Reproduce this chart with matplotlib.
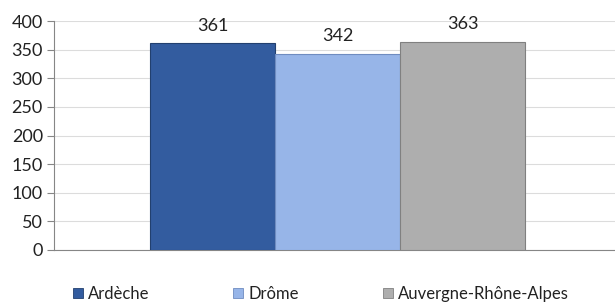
import matplotlib
matplotlib.use("Agg")
import matplotlib.pyplot as plt
from matplotlib.patches import Patch

categories = ["Ardèche", "Drôme", "Auvergne-Rhône-Alpes"]
values = [361, 342, 363]
colors = ["#335C9F", "#97B5E8", "#AEAEAE"]
edges = ["#22406F", "#6F8CC0", "#808080"]
yticks = [0, 50, 100, 150, 200, 250, 300, 350, 400]

plt.rcParams['font.family'] = ['Lato', 'DejaVu Sans']

fig = plt.figure(figsize=(6.15, 3.02), dpi=100)
ax = fig.add_axes([54/615, 52/302, 561/615, 229/302])

width = 0.223
offsets = [-width, 0, width]
center = 0.0054
for i, (c, v) in enumerate(zip(categories, values)):
    ax.bar(center + offsets[i], v, width=width, color=colors[i],
           edgecolor=edges[i], linewidth=0.8, zorder=3)
    ax.annotate(str(v), (center + offsets[i], v), xytext=(0, 7),
                textcoords="offset points", ha="center", va="bottom",
                fontsize=13, color="#222222")

ax.set_xlim(-0.5, 0.5)
ax.set_ylim(0, 400)
ax.set_yticks(yticks)
ax.set_xticks([])
ax.yaxis.grid(True, color="#DCDCDC", linewidth=0.8, zorder=0)
ax.set_axisbelow(True)
for s in ["top", "right"]:
    ax.spines[s].set_visible(False)
ax.spines["left"].set_color("#868686")
ax.spines["bottom"].set_color("#868686")
ax.tick_params(axis="y", length=5, color="#868686", labelsize=13,
               labelcolor="#222222", pad=3)

handles = [Patch(facecolor=colors[i], edgecolor=edges[i], linewidth=0.6)
           for i in range(3)]
fig.legend(handles, categories, loc="center left", bbox_to_anchor=(66/615, 8/302),
           ncol=3, frameon=False, fontsize=12, handlelength=0.6,
           handleheight=0.6, handletextpad=0.3, columnspacing=5.05,
           borderaxespad=0, labelcolor="#222222")

fig.savefig("out.png", dpi=100)
